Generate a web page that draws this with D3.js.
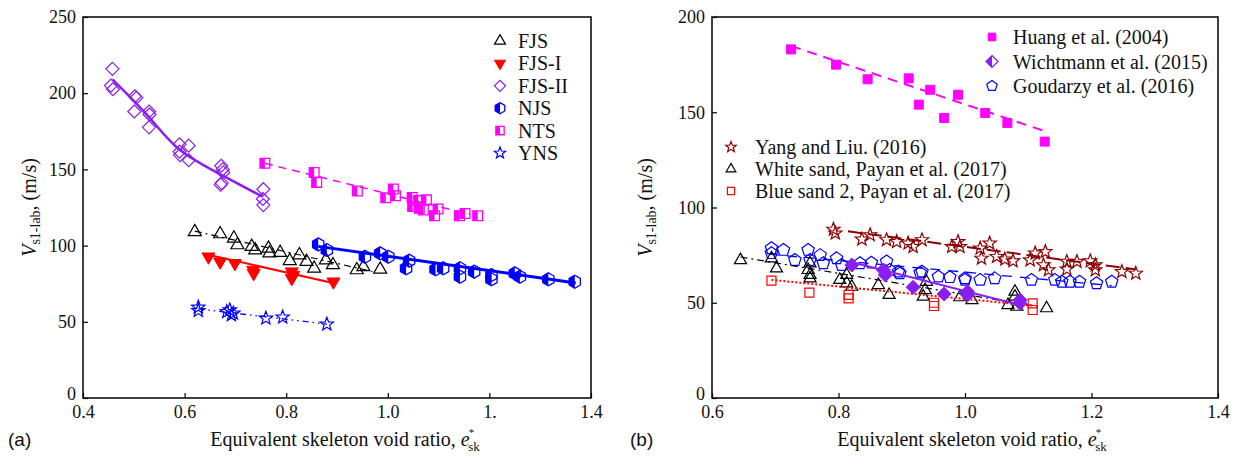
<!DOCTYPE html>
<html><head><meta charset="utf-8">
<script src="https://cdn.jsdelivr.net/npm/d3@7"></script>
<style>
body{margin:0;background:#fff;}
svg{display:block;font-family:"Liberation Serif","Times New Roman",serif;}
.tick text{font-size:18px;font-family:"Liberation Serif",serif;fill:#111;}
</style></head><body>
<svg id="c" width="1242" height="466"></svg>
<script>
// ---------- DATA: panel (a) ----------
const xTicksA = [0.4, 0.6, 0.8, 1.0, 1.2, 1.4];
const xTickLabelsA = ["0.4", "0.6", "0.8", "1.0", "1.", "1.4"];
const yTicksA = [0, 50, 100, 150, 200, 250];
const fjs = [[0.620,109],[0.670,107.6],[0.697,104.8],[0.704,100.4],[0.732,99.3],[0.739,97],[0.765,98.2],[0.767,95],[0.788,95.4],[0.807,90],[0.826,93.8],[0.840,89.5],[0.855,85],[0.878,90.5],[0.892,87.3],[0.939,84],[0.952,86],[0.985,84.4]];
const fjsTrend = [[0.62,109.5],[0.97,83]];
const fjs1 = [[0.647,92.7],[0.670,89.4],[0.699,88.4],[0.735,84],[0.736,81.8],[0.811,82.9],[0.811,78.5],[0.814,80.7],[0.893,76.3]];
const fjs1Trend = [[0.646,94],[0.892,75.5]];
const fjs2 = [[0.458,216],[0.455,205],[0.459,202.6],[0.502,198],[0.505,197],[0.501,188],[0.530,188],[0.531,186],[0.530,177.6],[0.590,166.5],[0.608,165.6],[0.590,161.6],[0.591,159.4],[0.608,156],[0.672,152.4],[0.675,150],[0.676,148],[0.673,141],[0.671,140],[0.755,137],[0.754,130.6],[0.755,126.6]];
const fjs2Trend = [[0.458,209],[0.532,183.5],[0.591,162.7],[0.676,145.7],[0.754,132]];
const njs = [[0.863,100.8],[0.880,97.1],[0.955,92.7],[0.985,94.9],[1.001,92.7],[1.042,90.1],[1.036,85.1],[1.094,84.4],[1.109,85.1],[1.142,85.1],[1.142,79.6],[1.170,82.9],[1.204,80.7],[1.204,77.9],[1.250,81.8],[1.260,79.6],[1.316,77.9],[1.368,76.3]];
const njsTrend = [[0.863,99.5],[1.37,75.5]];
const nts = [[0.758,154],[0.855,148],[0.860,141.5],[0.940,135.8],[0.996,131.4],[1.011,137.1],[1.015,132.7],[1.048,131.6],[1.049,125.6],[1.060,129.5],[1.062,124.5],[1.070,123.4],[1.076,130],[1.092,119.6],[1.099,124],[1.141,119.6],[1.152,121],[1.177,119.6]];
const ntsTrend = [[0.758,154],[1.162,120.5]];
const yns = [[0.627,59.5],[0.627,57.3],[0.683,56.6],[0.689,57.7],[0.692,54.5],[0.696,55.6],[0.760,52.3],[0.793,53],[0.880,48.4]];
const ynsTrend = [[0.627,58.5],[0.88,48.5]];
const legendA = ["FJS", "FJS-I", "FJS-II", "NJS", "NTS", "YNS"];

// ---------- DATA: panel (b) ----------
const xTicksB = [0.6, 0.8, 1.0, 1.2, 1.4];
const xTickLabelsB = ["0.6", "0.8", "1.0", "1.2", "1.4"];
const yTicksB = [0, 50, 100, 150, 200];
const huang = [[0.725,183],[0.796,175],[0.846,167.3],[0.911,167.8],[0.927,154],[0.945,161.8],[0.967,147],[0.989,159.2],[1.032,149.6],[1.067,144.4],[1.126,134.6]];
const huangTrend = [[0.725,184.8],[1.127,140]];
const wicht = [[0.821,69.8],[0.871,67.2],[0.874,64.6],[0.918,58.1],[0.967,54.6],[1.004,55.8],[1.004,54.1],[1.087,51.4],[1.087,49.7]];
const wichtTrend = [[0.82,71.4],[1.087,48.8]];
const goud = [[0.694,78.6],[0.694,76],[0.713,77.7],[0.731,72.4],[0.752,77.7],[0.755,72.4],[0.771,75],[0.776,70.7],[0.797,73.3],[0.805,69.8],[0.834,70.7],[0.852,71],[0.876,71.6],[0.881,67.2],[0.895,66.3],[0.897,65.4],[0.929,65.8],[0.932,66.3],[0.958,63.7],[0.976,63.4],[1.0,62.8],[1.0,62],[1.024,62],[1.047,62.8],[1.105,62],[1.142,62],[1.153,61],[1.166,61],[1.181,61],[1.208,60.2],[1.232,61]];
const goudTrend = [[0.69,75.5],[1.232,59]];
const yang = [[0.792,88.5],[0.795,86.5],[0.837,83.3],[0.850,85.6],[0.876,83],[0.892,82],[0.910,81.2],[0.918,79.4],[0.932,83],[0.979,79.4],[0.989,82],[0.992,79.4],[1.024,78.6],[1.039,81.2],[1.026,73.3],[1.050,74.2],[1.063,72.8],[1.076,71.9],[1.103,72.4],[1.111,76],[1.127,76.8],[1.124,69.8],[1.132,67.2],[1.161,71.6],[1.161,67.6],[1.177,71.6],[1.198,71.9],[1.206,69.8],[1.206,67.2],[1.248,66.3],[1.270,65.4]];
const yangTrend = [[0.815,87.5],[1.27,67.5]];
const white = [[0.645,72.4],[0.694,73.3],[0.702,68],[0.755,70.7],[0.752,67.2],[0.755,64.6],[0.755,62.8],[0.802,62],[0.813,64.6],[0.813,60.2],[0.821,58.4],[0.863,59.3],[0.880,54.1],[0.939,61],[0.937,56.7],[0.934,53.2],[0.992,52.9],[1.011,51.4],[1.068,48.8],[1.079,55.8],[1.079,53.2],[1.082,47.9],[1.129,47.1]];
const whiteTrend = [[0.645,74],[1.115,48]];
const blue2 = [[0.694,61.6],[0.754,55.3],[0.816,54.1],[0.816,52.3],[0.951,50],[0.951,48.3],[1.107,49.7],[1.107,46.2]];
const blue2Trend = [[0.694,62],[1.107,48.5]];
const legendB1 = ["Huang et al. (2004)", "Wichtmann et al. (2015)", "Goudarzy et al. (2016)"];
const legendB2 = ["Yang and Liu. (2016)", "White sand, Payan et al. (2017)", "Blue sand 2, Payan et al. (2017)"];

// ---------- shapes ----------
function poly(pts){ return d3.line()(pts) + "Z"; }
function regular(n, r, start){ const p=[]; for(let i=0;i<n;i++){const a=start+i*2*Math.PI/n; p.push([r*Math.cos(a), r*Math.sin(a)]);} return p; }
const shapes = {
  triUp: r => poly(regular(3, r, -Math.PI/2)),
  triDown: r => poly(regular(3, r, Math.PI/2)),
  diamond: r => poly([[0,-r],[r,0],[0,r],[-r,0]]),
  square: r => poly([[-r*0.75,-r*0.75],[r*0.75,-r*0.75],[r*0.75,r*0.75],[-r*0.75,r*0.75]]),
  pentagon: r => poly(regular(5, r, -Math.PI/2)),
  hexagon: r => poly(regular(6, r, -Math.PI/2)),
  star: r => { const p=[]; for(let i=0;i<10;i++){const a=-Math.PI/2+i*Math.PI/5; const rr=i%2?r*0.42:r; p.push([rr*Math.cos(a), rr*Math.sin(a)]);} return poly(p); }
};

const svg = d3.select("#c");
const defs = svg.append("defs");
defs.append("clipPath").attr("id","lefthalf").append("rect").attr("x",-30).attr("y",-30).attr("width",30).attr("height",60);

function marker(g, x, y, st, r, fillOverride){
  const m = g.append("g").attr("transform",`translate(${x},${y})`);
  const d = shapes[st.shape](r);
  const fill = fillOverride || st.fill;
  if (fill === "full") {
    m.append("path").attr("d",d).attr("fill",st.color).attr("stroke",st.color).attr("stroke-width",1);
  } else if (fill === "half") {
    m.append("path").attr("d",d).attr("fill",st.color).attr("clip-path","url(#lefthalf)");
    m.append("path").attr("d",d).attr("fill","none").attr("stroke",st.color).attr("stroke-width",1.3);
  } else {
    m.append("path").attr("d",d).attr("fill","none").attr("stroke",st.color).attr("stroke-width",1.2);
  }
}

function panel(opt){
  const g = svg.append("g");
  const x = d3.scaleLinear().domain(opt.xd).range([opt.x0, opt.x1]);
  const y = d3.scaleLinear().domain(opt.yd).range([opt.y1, opt.y0]);
  const xa = g.append("g").attr("transform",`translate(0,${opt.y1})`)
    .call(d3.axisBottom(x).tickValues(opt.xt).tickFormat((d,i)=>opt.xl[i]).tickSize(-5).tickPadding(7));
  const ya = g.append("g").attr("transform",`translate(${opt.x0},0)`)
    .call(d3.axisLeft(y).tickValues(opt.yt).tickFormat(d3.format("d")).tickSize(-5).tickPadding(7));
  [xa,ya].forEach(a=>{a.select(".domain").remove(); a.selectAll("line").attr("stroke","#000").attr("stroke-width",1.2);});
  ya.selectAll(".tick").filter(d=>d===0).select("text").attr("dy","0.1em");
  g.append("rect").attr("x",opt.x0).attr("y",opt.y0).attr("width",opt.x1-opt.x0).attr("height",opt.y1-opt.y0)
    .attr("fill","none").attr("stroke","#000").attr("stroke-width",1.5);
  const line = d3.line().x(d=>x(d[0])).y(d=>y(d[1]));
  const curve = d3.line().x(d=>x(d[0])).y(d=>y(d[1])).curve(d3.curveNatural);
  opt.series.forEach(s=>{
    const gs = g.append("g");
    s.data.forEach(d=>marker(gs, x(d[0]), y(d[1]), s, s.r, s.dataFill));
    g.append("path").attr("d",(s.smooth?curve:line)(s.trend)).attr("fill","none")
      .attr("stroke",s.color).attr("stroke-width",s.lw).attr("stroke-dasharray",s.dash||null);
  });
  const yt = g.append("text").attr("transform",`translate(${opt.ytx},${(opt.y0+opt.y1)/2}) rotate(-90)`)
    .attr("text-anchor","middle").attr("font-size",20).attr("fill","#111");
  yt.append("tspan").attr("font-style","italic").text("V");
  yt.append("tspan").attr("font-size",14).attr("dy",4).text("s1-lab");
  yt.append("tspan").attr("dy",-4).text(", (m/s)");
  const xt = g.append("text").attr("x",opt.xtx).attr("y",446).attr("text-anchor","middle").attr("font-size",20).attr("fill","#111");
  xt.append("tspan").text("Equivalent skeleton void ratio, ");
  xt.append("tspan").attr("font-style","italic").text("e");
  xt.append("tspan").attr("font-size",11).attr("dy",-10).attr("dx",-1).text("*");
  xt.append("tspan").attr("font-size",13).attr("dy",15).attr("dx",-6).text("sk");
  g.append("text").attr("x",opt.labx).attr("y",446).attr("font-family","'Liberation Sans',Arial,sans-serif").attr("font-size",19).attr("fill","#111").text(opt.lab);
  return {g,x,y};
}

const C = {black:"#000000", red:"#FF0000", purple:"#8A1EF0", blue:"#0000FF", magenta:"#FF00FF", darkred:"#8B0000"};
const stFJS = {shape:"triUp", fill:"none", color:C.black, r:7.5, lw:1.2, dash:"7,4,2,4"};
const stFJS1 = {shape:"triDown", fill:"full", color:C.red, r:7.5, lw:2, dash:null};
const stFJS2 = {shape:"diamond", fill:"none", color:C.purple, r:6.5, lw:2.5, dash:null, smooth:true};
const stNJS = {shape:"hexagon", fill:"half", color:C.blue, r:6.5, lw:3, dash:null};
const stNTS = {shape:"square", fill:"half", color:C.magenta, r:6.5, lw:1.5, dash:"8,6"};
const stYNS = {shape:"star", fill:"none", color:C.blue, r:7, lw:1.3, dash:"6,4,1.5,4,1.5,4"};

const A = panel({xd:[0.4,1.4], yd:[0,250], x0:83, x1:591, y0:17, y1:398, xt:xTicksA, xl:xTickLabelsA, yt:yTicksA,
  ytx:36, xtx:345, labx:8, lab:"(a)",
  series:[
    Object.assign({data:nts, trend:ntsTrend}, stNTS),
    Object.assign({data:fjs2, trend:fjs2Trend}, stFJS2),
    Object.assign({data:fjs, trend:fjsTrend}, stFJS),
    Object.assign({data:fjs1, trend:fjs1Trend}, stFJS1),
    Object.assign({data:njs, trend:njsTrend}, stNJS),
    Object.assign({data:yns, trend:ynsTrend}, stYNS)
  ]});

const stHuang = {shape:"square", fill:"full", color:C.magenta, r:6, lw:2, dash:"10,7"};
const stWicht = {shape:"diamond", fill:"half", color:C.purple, r:7, lw:2, dash:null, dataFill:"full"};
const stGoud = {shape:"pentagon", fill:"none", color:C.blue, r:6.5, lw:1.3, dash:"10,8"};
const stYang = {shape:"star", fill:"none", color:C.darkred, r:7, lw:2, dash:"14,6"};
const stWhite = {shape:"triUp", fill:"none", color:C.black, r:7, lw:1.2, dash:"7,4,2,4"};
const stBlue2 = {shape:"square", fill:"none", color:C.red, r:6, lw:2, dash:"2,2"};

const B = panel({xd:[0.6,1.4], yd:[0,200], x0:712, x1:1218, y0:17, y1:398, xt:xTicksB, xl:xTickLabelsB, yt:yTicksB,
  ytx:652, xtx:972, labx:630, lab:"(b)",
  series:[
    Object.assign({data:huang, trend:huangTrend}, stHuang),
    Object.assign({data:yang, trend:yangTrend}, stYang),
    Object.assign({data:goud, trend:goudTrend}, stGoud),
    Object.assign({data:white, trend:whiteTrend}, stWhite),
    Object.assign({data:blue2, trend:blue2Trend}, stBlue2),
    Object.assign({data:wicht, trend:wichtTrend}, stWicht)
  ]});

const legA = [stFJS, stFJS1, stFJS2, stNJS, stNTS, stYNS];
legendA.forEach((t,i)=>{
  const yy = 41 + i*22.4;
  marker(A.g, 500, yy, legA[i], legA[i].r*0.85);
  A.g.append("text").attr("x",518).attr("y",yy+7).attr("font-size",20).attr("fill","#111").text(t);
});
const legB1 = [stHuang, stWicht, stGoud];
legendB1.forEach((t,i)=>{
  const yy = 37 + i*24.5;
  marker(B.g, 992, yy, legB1[i], legB1[i].r*0.85);
  B.g.append("text").attr("x",1013).attr("y",yy+7).attr("font-size",20).attr("fill","#111").text(t);
});
const legB2 = [stYang, stWhite, stBlue2];
legendB2.forEach((t,i)=>{
  const yy = 147 + i*22;
  marker(B.g, 731, yy, legB2[i], legB2[i].r*0.8);
  B.g.append("text").attr("x",755).attr("y",yy+7).attr("font-size",20).attr("fill","#111").text(t);
});
</script></body></html>
